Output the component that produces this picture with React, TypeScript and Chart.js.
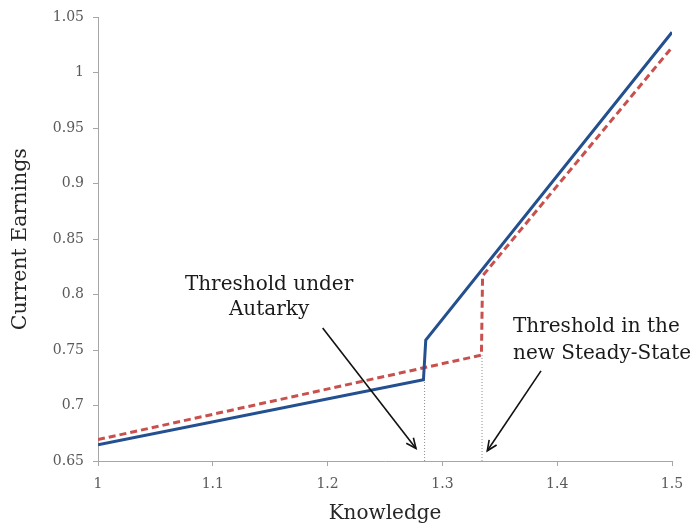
import React, { useEffect, useRef } from "react";
import { Chart, registerables } from "chart.js";

Chart.register(...registerables);

// ---- data ----
const autarkyX = [1, 1.2835, 1.2855, 1.5];
const autarkyY = [0.6646, 0.7232, 0.759, 1.0366];
const steadyX = [1, 1.334, 1.335, 1.5];
const steadyY = [0.6693, 0.7455, 0.817, 1.023];

const thresholdAutarkyX = [1.2845, 1.2845];
const thresholdAutarkyY = [0.65, 0.7234];
const thresholdSteadyX = [1.3345, 1.3345];
const thresholdSteadyY = [0.65, 0.7455];

const xTickValues = [1, 1.1, 1.2, 1.3, 1.4, 1.5];
const xTickLabels = ["1", "1.1", "1.2", "1.3", "1.4", "1.5"];
const yTickValues = [0.65, 0.7, 0.75, 0.8, 0.85, 0.9, 0.95, 1, 1.05];
const yTickLabels = ["0.65", "0.7", "0.75", "0.8", "0.85", "0.9", "0.95", "1", "1.05"];

const xTitle = "Knowledge";
const yTitle = "Current Earnings";

// annotations (data coordinates)
const leftLabelLines = ["Threshold under", "Autarky"];
const leftLabelX = 1.149;
const leftLabelY = [0.8042, 0.7812];
const leftArrowFrom = [1.1957, 0.7699];
const leftArrowTo = [1.277, 0.6613];

const rightLabelLines = ["Threshold in the", "new Steady-State"];
const rightLabelX = 1.3615;
const rightLabelY = [0.7664, 0.7418];
const rightArrowFrom = [1.3859, 0.7313];
const rightArrowTo = [1.3391, 0.6592];

const toPoints = (xs: number[], ys: number[]) => xs.map((x, i) => ({ x, y: ys[i] }));

const FONT = "'DejaVu Serif', serif";

const annotationPlugin = {
  id: "annotations",
  afterDatasetsDraw(chart: any) {
    const { ctx } = chart;
    const xs = chart.scales.x;
    const ys = chart.scales.y;
    const px = (v: number) => xs.getPixelForValue(v);
    const py = (v: number) => ys.getPixelForValue(v);
    ctx.save();
    ctx.fillStyle = "#1a1a1a";
    ctx.font = `20px ${FONT}`;
    ctx.textBaseline = "alphabetic";
    ctx.textAlign = "center";
    leftLabelLines.forEach((t, i) => ctx.fillText(t, px(leftLabelX), py(leftLabelY[i])));
    ctx.textAlign = "left";
    rightLabelLines.forEach((t, i) => ctx.fillText(t, px(rightLabelX), py(rightLabelY[i])));

    const arrow = (from: number[], to: number[]) => {
      const x1 = px(from[0]), y1 = py(from[1]);
      const x2 = px(to[0]), y2 = py(to[1]);
      const ang = Math.atan2(y2 - y1, x2 - x1);
      const head = 11;
      const spread = 0.42;
      ctx.strokeStyle = "#111";
      ctx.lineWidth = 1.6;
      ctx.beginPath();
      ctx.moveTo(x1, y1);
      ctx.lineTo(x2, y2);
      ctx.stroke();
      ctx.beginPath();
      ctx.moveTo(x2 - head * Math.cos(ang - spread), y2 - head * Math.sin(ang - spread));
      ctx.lineTo(x2, y2);
      ctx.lineTo(x2 - head * Math.cos(ang + spread), y2 - head * Math.sin(ang + spread));
      ctx.stroke();
    };
    arrow(leftArrowFrom, leftArrowTo);
    arrow(rightArrowFrom, rightArrowTo);
    ctx.restore();
  },
};

export default function App() {
  const canvasRef = useRef<HTMLCanvasElement | null>(null);

  useEffect(() => {
    if (!canvasRef.current) return;
    const chart = new Chart(canvasRef.current, {
      type: "line",
      data: {
        datasets: [
          {
            label: "Threshold autarky",
            data: toPoints(thresholdAutarkyX, thresholdAutarkyY),
            borderColor: "#8c8c8c",
            borderWidth: 1,
            borderDash: [1, 2],
            pointRadius: 0,
            order: 3,
          },
          {
            label: "Threshold steady state",
            data: toPoints(thresholdSteadyX, thresholdSteadyY),
            borderColor: "#8c8c8c",
            borderWidth: 1,
            borderDash: [1, 2],
            pointRadius: 0,
            order: 3,
          },
          {
            label: "New steady state",
            data: toPoints(steadyX, steadyY),
            borderColor: "#C8504D",
            borderWidth: 3,
            borderDash: [7, 4],
            pointRadius: 0,
            order: 2,
          },
          {
            label: "Autarky",
            data: toPoints(autarkyX, autarkyY),
            borderColor: "#24508F",
            borderWidth: 3,
            pointRadius: 0,
            order: 1,
          },
        ],
      },
      options: {
        animation: false,
        responsive: false,
        maintainAspectRatio: false,
        layout: { padding: { top: 13, right: 27, left: 0, bottom: 0 } },
        plugins: { legend: { display: false }, tooltip: { enabled: false } },
        scales: {
          x: {
            type: "linear",
            min: 1,
            max: 1.5,
            afterFit: (s: any) => {
              s.height = 68;
            },
            afterBuildTicks: (s: any) => {
              s.ticks = xTickValues.map((v) => ({ value: v }));
            },
            ticks: {
              padding: 10,
              color: "#595959",
              font: { family: FONT, size: 14 },
              callback: (v: any) => {
                const i = xTickValues.findIndex((t) => Math.abs(t - Number(v)) < 1e-9);
                return i >= 0 ? xTickLabels[i] : "";
              },
            },
            grid: { drawOnChartArea: false, drawTicks: true, tickLength: 5, color: "#a6a6a6" },
            border: { display: true, color: "#a6a6a6", width: 1 },
            title: {
              display: true,
              text: xTitle,
              color: "#262626",
              font: { family: FONT, size: 20 },
              padding: { top: 0, bottom: 3 },
            },
          },
          y: {
            type: "linear",
            min: 0.65,
            max: 1.05,
            afterFit: (s: any) => {
              s.width = 98;
            },
            afterBuildTicks: (s: any) => {
              s.ticks = yTickValues.map((v) => ({ value: v }));
            },
            ticks: {
              padding: 9,
              color: "#595959",
              font: { family: FONT, size: 14 },
              callback: (v: any) => {
                const i = yTickValues.findIndex((t) => Math.abs(t - Number(v)) < 1e-9);
                return i >= 0 ? yTickLabels[i] : "";
              },
            },
            grid: { drawOnChartArea: false, drawTicks: true, tickLength: 5, color: "#a6a6a6" },
            border: { display: true, color: "#a6a6a6", width: 1 },
            title: {
              display: true,
              text: yTitle,
              color: "#262626",
              font: { family: FONT, size: 20.5 },
              padding: { top: 8, bottom: 0 },
            },
          },
        },
      },
      plugins: [annotationPlugin],
    });
    return () => chart.destroy();
  }, []);

  return (
    <div style={{ position: "fixed", left: 0, top: 0, width: 699, height: 529, background: "#fff" }}>
      <canvas ref={canvasRef} width={699} height={529} style={{ display: "block", width: 699, height: 529 }} />
    </div>
  );
}
